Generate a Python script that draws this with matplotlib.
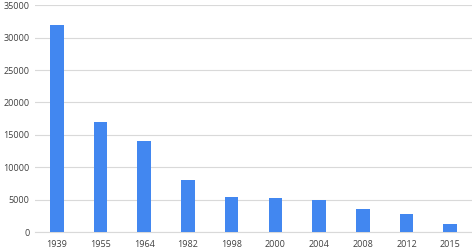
import matplotlib.pyplot as plt

years = ['1939', '1955', '1964', '1982', '1998', '2000', '2004', '2008', '2012', '2015']
values = [32000, 17000, 14000, 8000, 5400, 5200, 5000, 3500, 2800, 1200]

plt.rcParams['font.family'] = ['Open Sans', 'DejaVu Sans']

fig = plt.figure(figsize=(4.72, 2.52), dpi=100)
ax = fig.add_axes([0.074, 0.079, 0.926, 0.9])

x = range(len(years))
ax.bar(x, values, width=0.31, color='#4287f0', zorder=3)

ax.set_xlim(-0.5, len(years) - 0.5)
ax.set_ylim(0, 35000)
ax.set_yticks(range(0, 35001, 5000))
ax.set_xticks(list(x))
ax.set_xticklabels(years)
ax.yaxis.grid(True, color='#d9d9d9', linewidth=0.8, zorder=0)

for side in ['top', 'right', 'left']:
    ax.spines[side].set_visible(False)
ax.spines['bottom'].set_color('#d9d9d9')
ax.tick_params(length=0, labelsize=6.5, colors='#404040')
ax.tick_params(axis='x', pad=6)
ax.tick_params(axis='y', pad=4)

fig.savefig('out.png', dpi=100)
